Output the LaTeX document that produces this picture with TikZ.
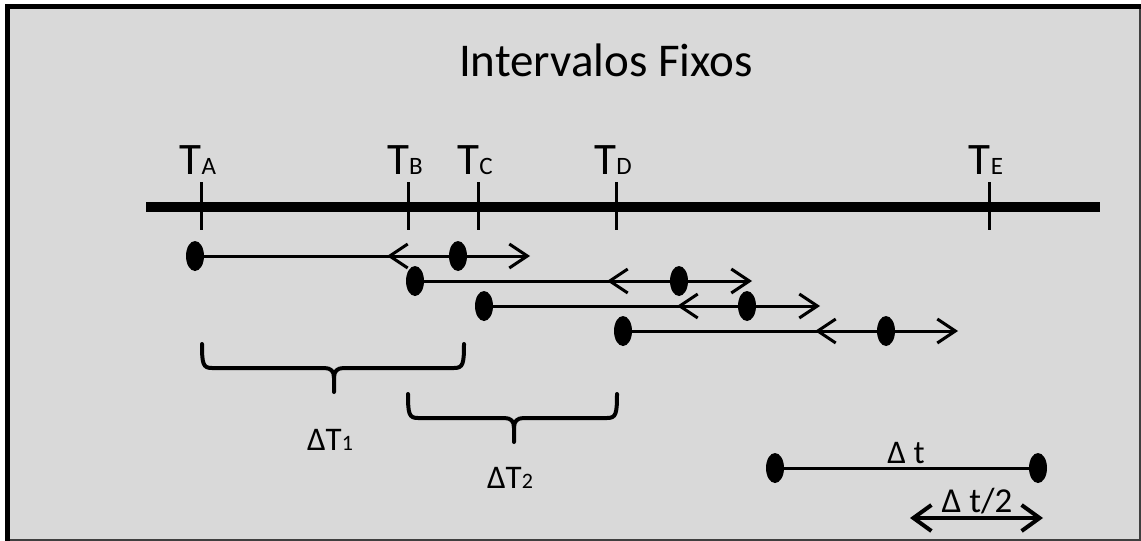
\documentclass[tikz,border=0pt]{standalone}
\usepackage{fontspec}
\setmainfont{Carlito}
\usetikzlibrary{arrows.meta,shapes.geometric}
\definecolor{bg}{HTML}{D9D9D9}
\definecolor{edge}{HTML}{3F3F3F}
\newcommand{\Tlab}[1]{{\fontsize{45}{45}\selectfont T}{\fontsize{25}{25}\selectfont #1}}
\newcommand{\DTlab}[1]{{\fontsize{33}{33}\selectfont ΔT}{\fontsize{22}{22}\selectfont #1}}
\begin{document}
\begin{tikzpicture}[x=1pt,y=-1pt,
  dot/.style={ellipse, fill=black, minimum width=18pt, minimum height=30pt, inner sep=0pt},
  span/.style={line width=3pt},
  half/.style={line width=3pt, {Straight Barb[length=18pt,width=24pt]}-{Straight Barb[length=18pt,width=24pt]}},
  halfbig/.style={line width=4pt, {Straight Barb[length=18pt,width=26pt]}-{Straight Barb[length=18pt,width=26pt]}},
  tickmark/.style={line width=3pt},
  axis/.style={line width=10pt},
  ubrace/.style={line width=4pt, line cap=round, line join=round},
  lab/.style={anchor=base, inner sep=0pt, text=black}]
\useasboundingbox (0,0) rectangle (1141,541);
% frame
\fill[white] (0,0) rectangle (1141,541);
\fill[edge] (5,4) rectangle (1141,541);
\fill[black] (5,4) rectangle (10,541);
\fill[black] (5,4) rectangle (1141,9);
\fill[bg] (10,9) rectangle (1139,539);
% title
\node[lab] (title) at (606,76) {\fontsize{47}{47}\selectfont Intervalos Fixos};
% axis
\coordinate (ax0) at (146,207);
\coordinate (ax1) at (1100,207);
\draw[axis] (ax0) -- (ax1);
\foreach \n/\x in {A/201,B/408,C/478,D/616,E/989}{
  \coordinate (t\n top) at (\x,182);
  \coordinate (t\n bot) at (\x,230);
  \draw[tickmark] (t\n top) -- (t\n bot);
  \node[lab] (l\n) at (\x-3,174) {\Tlab{\n}};
}
% rows
\foreach \i/\xa/\xb/\hl/\hr/\y in {1/195/458/387/530/256, 2/415/679/607/752/281, 3/484/747/677/820/306, 4/623/886/815/958/331}{
  \coordinate (h\i l) at (\hl,\y);
  \coordinate (h\i r) at (\hr,\y);
  \draw[half] (h\i l) -- (h\i r);
  \node[dot] (d\i a) at (\xa,\y) {};
  \node[dot] (d\i b) at (\xb,\y) {};
  \draw[span] (d\i a.center) -- (d\i b.center);
}
% braces
\draw[ubrace] (202,344) .. controls (202,364) and (203,368) .. (212,368) -- (324,368)
  .. controls (331,368) and (334,371) .. (334,378) -- (334,392);
\draw[ubrace] (464,344) .. controls (464,364) and (463,368) .. (454,368) -- (344,368)
  .. controls (337,368) and (334,371) .. (334,378);
\draw[ubrace] (408,394) .. controls (408,414) and (409,418) .. (418,418) -- (504,418)
  .. controls (511,418) and (514,421) .. (514,428) -- (514,442);
\draw[ubrace] (617,394) .. controls (617,414) and (616,418) .. (607,418) -- (524,418)
  .. controls (517,418) and (514,421) .. (514,428);
\node[lab] (dT1) at (330,450) {\DTlab{1}};
\node[lab] (dT2) at (510,488) {\DTlab{2}};
% legend
\node[dot] (la) at (775,468) {};
\node[dot] (lb) at (1038,468) {};
\draw[span] (la.center) -- (lb.center);
\node[lab] (ldt) at (906,463) {\fontsize{33}{33}\selectfont Δ t};
\coordinate (lhl) at (910,518);
\coordinate (lhr) at (1043,518);
\draw[halfbig] (lhl) -- (lhr);
\node[lab] (ldt2) at (977,512) {\fontsize{35}{35}\selectfont Δ t/2};
\end{tikzpicture}
\end{document}
